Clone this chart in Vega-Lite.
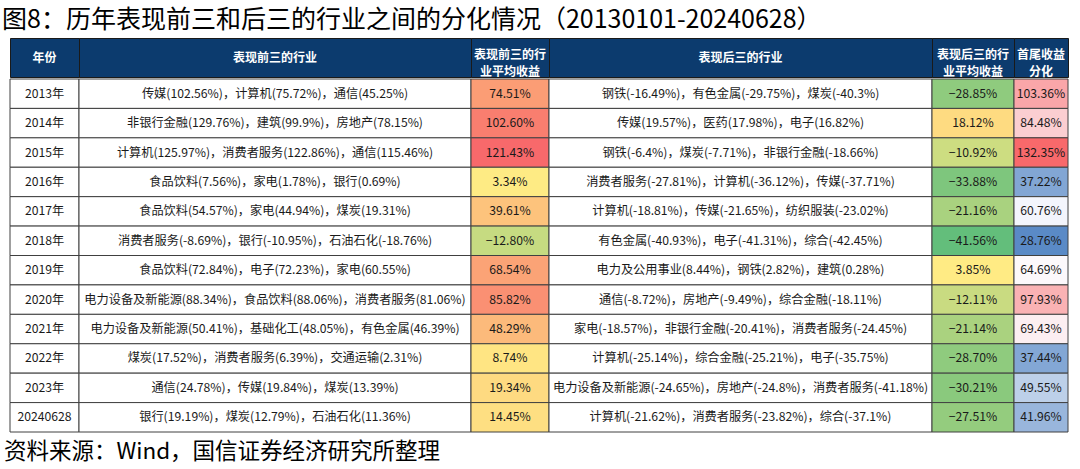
{
  "$schema": "https://vega.github.io/schema/vega-lite/v6.json",
  "padding": {"left": 2, "top": 7, "right": 0, "bottom": 0},
  "background": "white",
  "spacing": 0,
  "config": {
    "view": {"stroke": null},
    "concat": {"spacing": 0},
    "font": "Noto Sans CJK SC",
    "text": {"font": "Noto Sans CJK SC"}
  },
  "title": {
    "text": "图8：历年表现前三和后三的行业之间的分化情况（20130101-20240628）",
    "anchor": "start",
    "frame": "group",
    "fontSize": 25,
    "fontWeight": "normal",
    "font": "Noto Sans CJK SC",
    "color": "#000000",
    "dx": -8,
    "offset": 5
  },
  "datasets": {
    "rows": [
      {"year": "2013年", "top": "传媒(102.56%)，计算机(75.72%)，通信(45.25%)", "topAvg": 0.7451, "bottom": "钢铁(-16.49%)，有色金属(-29.75%)，煤炭(-40.3%)", "bottomAvg": -0.2885, "spread": 1.0336},
      {"year": "2014年", "top": "非银行金融(129.76%)，建筑(99.9%)，房地产(78.15%)", "topAvg": 1.026, "bottom": "传媒(19.57%)，医药(17.98%)，电子(16.82%)", "bottomAvg": 0.1812, "spread": 0.8448},
      {"year": "2015年", "top": "计算机(125.97%)，消费者服务(122.86%)，通信(115.46%)", "topAvg": 1.2143, "bottom": "钢铁(-6.4%)，煤炭(-7.71%)，非银行金融(-18.66%)", "bottomAvg": -0.1092, "spread": 1.3235},
      {"year": "2016年", "top": "食品饮料(7.56%)，家电(1.78%)，银行(0.69%)", "topAvg": 0.0334, "bottom": "消费者服务(-27.81%)，计算机(-36.12%)，传媒(-37.71%)", "bottomAvg": -0.3388, "spread": 0.3722},
      {"year": "2017年", "top": "食品饮料(54.57%)，家电(44.94%)，煤炭(19.31%)", "topAvg": 0.3961, "bottom": "计算机(-18.81%)，传媒(-21.65%)，纺织服装(-23.02%)", "bottomAvg": -0.2116, "spread": 0.6076},
      {"year": "2018年", "top": "消费者服务(-8.69%)，银行(-10.95%)，石油石化(-18.76%)", "topAvg": -0.128, "bottom": "有色金属(-40.93%)，电子(-41.31%)，综合(-42.45%)", "bottomAvg": -0.4156, "spread": 0.2876},
      {"year": "2019年", "top": "食品饮料(72.84%)，电子(72.23%)，家电(60.55%)", "topAvg": 0.6854, "bottom": "电力及公用事业(8.44%)，钢铁(2.82%)，建筑(0.28%)", "bottomAvg": 0.0385, "spread": 0.6469},
      {"year": "2020年", "top": "电力设备及新能源(88.34%)，食品饮料(88.06%)，消费者服务(81.06%)", "topAvg": 0.8582, "bottom": "通信(-8.72%)，房地产(-9.49%)，综合金融(-18.11%)", "bottomAvg": -0.1211, "spread": 0.9793},
      {"year": "2021年", "top": "电力设备及新能源(50.41%)，基础化工(48.05%)，有色金属(46.39%)", "topAvg": 0.4829, "bottom": "家电(-18.57%)，非银行金融(-20.41%)，消费者服务(-24.45%)", "bottomAvg": -0.2114, "spread": 0.6943},
      {"year": "2022年", "top": "煤炭(17.52%)，消费者服务(6.39%)，交通运输(2.31%)", "topAvg": 0.0874, "bottom": "计算机(-25.14%)，综合金融(-25.21%)，电子(-35.75%)", "bottomAvg": -0.287, "spread": 0.3744},
      {"year": "2023年", "top": "通信(24.78%)，传媒(19.84%)，煤炭(13.39%)", "topAvg": 0.1934, "bottom": "电力设备及新能源(-24.65%)，房地产(-24.8%)，消费者服务(-41.18%)", "bottomAvg": -0.3021, "spread": 0.4955},
      {"year": "20240628", "top": "银行(19.19%)，煤炭(12.79%)，石油石化(11.36%)", "topAvg": 0.1445, "bottom": "计算机(-21.62%)，消费者服务(-23.82%)，综合(-37.1%)", "bottomAvg": -0.2751, "spread": 0.4196}
    ]
  },
  "vconcat": [
    {
      "spacing": 0,
      "bounds": "flush",
      "hconcat": [
        {"width": 69, "height": 39, "view": {"fill": "#0C3B6E", "stroke": "#1a1a1a", "strokeWidth": 1},
         "data": {"values": [{"h": "年份"}]},
         "mark": {"type": "text", "color": "white", "fontWeight": "bold", "fontSize": 12, "lineBreak": "\n"},
         "encoding": {"text": {"field": "h"}}},
        {"width": 392, "height": 39, "view": {"fill": "#0C3B6E", "stroke": "#1a1a1a", "strokeWidth": 1},
         "data": {"values": [{"h": "表现前三的行业"}]},
         "mark": {"type": "text", "color": "white", "fontWeight": "bold", "fontSize": 12, "lineBreak": "\n"},
         "encoding": {"text": {"field": "h"}}},
        {"width": 78, "height": 39, "view": {"fill": "#0C3B6E", "stroke": "#1a1a1a", "strokeWidth": 1},
         "data": {"values": [{"h": "表现前三的行\n业平均收益"}]},
         "mark": {"type": "text", "color": "white", "fontWeight": "bold", "fontSize": 12, "lineBreak": "\n", "lineHeight": 17, "dy": -3},
         "encoding": {"text": {"field": "h"}}},
        {"width": 383, "height": 39, "view": {"fill": "#0C3B6E", "stroke": "#1a1a1a", "strokeWidth": 1},
         "data": {"values": [{"h": "表现后三的行业"}]},
         "mark": {"type": "text", "color": "white", "fontWeight": "bold", "fontSize": 12, "lineBreak": "\n"},
         "encoding": {"text": {"field": "h"}}},
        {"width": 82, "height": 39, "view": {"fill": "#0C3B6E", "stroke": "#1a1a1a", "strokeWidth": 1},
         "data": {"values": [{"h": "表现后三的行\n业平均收益"}]},
         "mark": {"type": "text", "color": "white", "fontWeight": "bold", "fontSize": 12, "lineBreak": "\n", "lineHeight": 17, "dy": -3},
         "encoding": {"text": {"field": "h"}}},
        {"width": 54, "height": 39, "view": {"fill": "#0C3B6E", "stroke": "#1a1a1a", "strokeWidth": 1},
         "data": {"values": [{"h": "首尾收益\n分化"}]},
         "mark": {"type": "text", "color": "white", "fontWeight": "bold", "fontSize": 12, "lineBreak": "\n", "lineHeight": 17, "dy": -3},
         "encoding": {"text": {"field": "h"}}}
      ]
    },
    {
      "spacing": 0,
      "bounds": "flush",
      "resolve": {"scale": {"fill": "independent"}},
      "title": {
        "text": "资料来源：Wind，国信证券经济研究所整理",
        "orient": "bottom",
        "anchor": "start",
        "frame": "group",
        "fontSize": 22.5,
        "fontWeight": "normal",
        "font": "Noto Sans CJK SC",
        "color": "#000000",
        "dx": -6,
        "offset": 8
      },
      "hconcat": [
        {"width": 69, "height": 353, "data": {"name": "rows"},
         "encoding": {"y": {"field": "year", "type": "nominal", "sort": null, "axis": null, "scale": {"paddingInner": 0, "paddingOuter": 0}}},
         "layer": [
           {"mark": {"type": "rect", "fill": "white", "stroke": "#404040", "strokeWidth": 1}},
           {"mark": {"type": "text", "fontSize": 12.2, "color": "#1a1a1a"}, "encoding": {"text": {"field": "year"}}}
         ]},
        {"width": 392, "height": 353, "data": {"name": "rows"},
         "encoding": {"y": {"field": "year", "type": "nominal", "sort": null, "axis": null, "scale": {"paddingInner": 0, "paddingOuter": 0}}},
         "layer": [
           {"mark": {"type": "rect", "fill": "white", "stroke": "#404040", "strokeWidth": 1}},
           {"mark": {"type": "text", "fontSize": 12.2, "color": "#1a1a1a"}, "encoding": {"text": {"field": "top"}}}
         ]},
        {"width": 78, "height": 353, "data": {"name": "rows"},
         "encoding": {"y": {"field": "year", "type": "nominal", "sort": null, "axis": null, "scale": {"paddingInner": 0, "paddingOuter": 0}}},
         "layer": [
           {"mark": {"type": "rect", "stroke": "#404040", "strokeWidth": 1},
            "encoding": {"fill": {"field": "topAvg", "type": "quantitative", "legend": null,
              "scale": {"type": "linear", "domain": [-0.4156, 1.2143], "domainMid": 0.036, "range": ["#63BE7B", "#FFEB84", "#F8696B"], "interpolate": "rgb"}}}},
           {"mark": {"type": "text", "fontSize": 12.2, "color": "#1a1a1a"}, "encoding": {"text": {"field": "topAvg", "type": "quantitative", "format": ".2%"}}}
         ]},
        {"width": 383, "height": 353, "data": {"name": "rows"},
         "encoding": {"y": {"field": "year", "type": "nominal", "sort": null, "axis": null, "scale": {"paddingInner": 0, "paddingOuter": 0}}},
         "layer": [
           {"mark": {"type": "rect", "fill": "white", "stroke": "#404040", "strokeWidth": 1}},
           {"mark": {"type": "text", "fontSize": 12.2, "color": "#1a1a1a"}, "encoding": {"text": {"field": "bottom"}}}
         ]},
        {"width": 82, "height": 353, "data": {"name": "rows"},
         "encoding": {"y": {"field": "year", "type": "nominal", "sort": null, "axis": null, "scale": {"paddingInner": 0, "paddingOuter": 0}}},
         "layer": [
           {"mark": {"type": "rect", "stroke": "#404040", "strokeWidth": 1},
            "encoding": {"fill": {"field": "bottomAvg", "type": "quantitative", "legend": null,
              "scale": {"type": "linear", "domain": [-0.4156, 1.2143], "domainMid": 0.036, "range": ["#63BE7B", "#FFEB84", "#F8696B"], "interpolate": "rgb"}}}},
           {"mark": {"type": "text", "fontSize": 12.2, "color": "#1a1a1a"}, "encoding": {"text": {"field": "bottomAvg", "type": "quantitative", "format": ".2%"}}}
         ]},
        {"width": 54, "height": 353, "data": {"name": "rows"},
         "encoding": {"y": {"field": "year", "type": "nominal", "sort": null, "axis": null, "scale": {"paddingInner": 0, "paddingOuter": 0}}},
         "layer": [
           {"mark": {"type": "rect", "stroke": "#404040", "strokeWidth": 1},
            "encoding": {"fill": {"field": "spread", "type": "quantitative", "legend": null,
              "scale": {"type": "linear", "domain": [0.2876, 1.3235], "domainMid": 0.627, "range": ["#5A8AC6", "#FCFCFF", "#F8696B"], "interpolate": "rgb"}}}},
           {"mark": {"type": "text", "fontSize": 12.2, "color": "#1a1a1a"}, "encoding": {"text": {"field": "spread", "type": "quantitative", "format": ".2%"}}}
         ]}
      ]
    }
  ]
}
